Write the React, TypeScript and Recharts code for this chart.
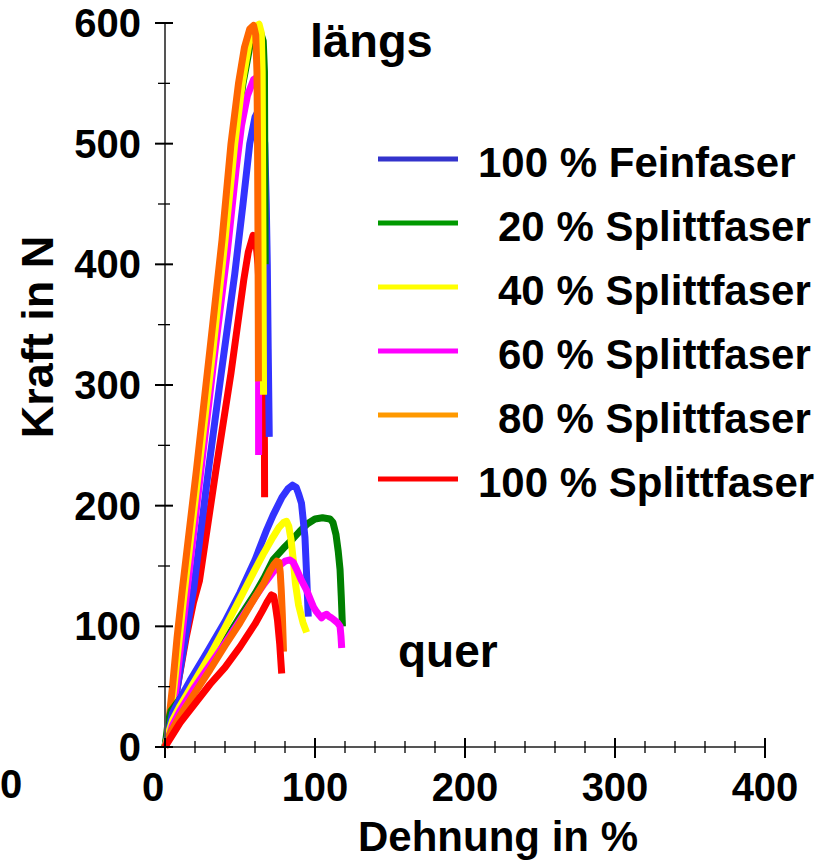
import React from "react";
import { LineChart, Line, XAxis, YAxis } from "recharts";

type Pt = [number, number];

const seriesNames = [
  "100 % Feinfaser",
  "20 % Splittfaser",
  "40 % Splittfaser",
  "60 % Splittfaser",
  "80 % Splittfaser",
  "100 % Splittfaser",
];
const lineColors = ["#3333ff", "#008000", "#ffff00", "#ff00ff", "#ff6600", "#ff0000"];
const legendColors = ["#3333cc", "#009900", "#ffff00", "#ff00ff", "#ff9900", "#ff0000"];

const xTicks = [0, 20, 40, 60, 80, 100, 120, 140, 160, 180, 200, 220, 240, 260, 280, 300, 320, 340, 360, 380, 400];
const yTicks = [0, 50, 100, 150, 200, 250, 300, 350, 400, 450, 500, 550, 600];

// längs (lengthwise)
const feinLaengs: Pt[] = [[0,0],[5,25],[9,55],[13.5,90],[19,130],[29,230],[37.5,310],[46.5,392],[52,450],[56.5,500],[60,522],[62.5,528],[65,518],[66.5,500],[67.5,450],[68.2,400],[68.8,330],[69.5,257]];
const split20Laengs: Pt[] = [[0,0],[3,20],[6,50],[9.5,90],[12.5,130],[22,230],[31.5,330],[39.5,420],[46.5,500],[52,550],[56.5,580],[60.5,592],[63.5,593],[65.5,585],[66.3,560],[66.5,500],[66.7,440],[66.8,400]];
const split40Laengs: Pt[] = [[0,0],[3,20],[6,50],[9.5,90],[13,130],[22.5,230],[32,330],[40,420],[46.5,500],[51.5,550],[56,583],[60,597],[62.7,599],[64.2,592],[64.8,560],[65,500],[65.3,420],[65.5,350],[65.7,292]];
const split60Laengs: Pt[] = [[0,0],[4,20],[7.5,50],[11,90],[14.7,130],[24,230],[33.5,330],[41.5,410],[47.5,480],[51,515],[55,540],[59,553],[61.3,555],[62.3,545],[62.5,500],[62.5,420],[62.5,350],[62.4,300],[62.4,242]];
const split80Laengs: Pt[] = [[0,0],[2,15],[5,50],[8,90],[11.5,130],[21,230],[30,330],[38,420],[44,500],[49,550],[53,580],[56.5,595],[59,598],[60.5,590],[61.3,560],[61.7,500],[62,420],[62.2,350],[62.3,303]];
const split100Laengs: Pt[] = [[0,0],[4,20],[9,55],[14,90],[19,120],[23,138],[34,230],[44,310],[52.5,387],[55.5,410],[58.7,424],[60.5,420],[62,400],[63.5,360],[65,320],[66,290],[66.3,250],[66.4,207]];

// quer (crosswise)
const feinQuer: Pt[] = [[0,0],[3,16],[5,28],[10,40],[16.7,55],[20,62],[27.8,78],[40,104],[50,128],[60,155],[67.8,180],[72,192],[78,207],[82,214],[85,217],[87.5,215],[89,210],[91,202],[93.3,174],[94.5,140],[95.5,108]];
const split20Quer: Pt[] = [[0,0],[2,20],[4,30],[10,40],[20,55],[30,70],[40,88],[50,108],[60,127],[66,140],[72,155],[80,166],[85.6,173],[90,179],[95,185],[100,189],[105,190],[110,189],[112,186],[114,176],[115.5,162],[116.7,147],[117.5,125],[118.3,100]];
const split40Quer: Pt[] = [[0,0],[3,14],[5,22],[10,34],[20,55],[30,76],[40,99],[50,123],[60,147],[66,161],[72,174],[76,182],[79,186],[81,187],[82.5,183],[84,172],[85.5,155],[87,135],[89,118],[92,103],[94.4,95]];
const split60Quer: Pt[] = [[0,0],[3,10],[5,18],[10,30],[20,50],[30,68],[40,86],[50,105],[60,124],[66,135],[72,145],[77,151],[80,154],[83.3,155],[85.5,153],[87.8,147],[91,138],[94.4,130],[97,122],[99,116],[101,112],[103,109],[104.4,107],[106,109],[107.8,110],[109.5,108],[111,107],[113,105],[115,103],[116.7,100],[117.3,92],[117.8,82]];
const split80Quer: Pt[] = [[0,0],[3,10],[5,15],[10,26],[20,45],[30,64],[40,84],[50,103],[60,124],[66,136],[70,146],[72.5,151],[74.5,154],[76,153],[76.8,145],[77.5,130],[78.2,110],[78.6,95],[79,79]];
const split100Quer: Pt[] = [[0,0],[3,6],[5,10],[10,20],[20,36],[30,52],[40,66],[50,83],[60,102],[65,113],[68,120],[71,126],[72.5,125],[73.5,118],[75,105],[76.5,85],[77.8,61]];

const toRows = (pts: Pt[]) => pts.map(([x, y]) => ({ x, y }));

// drawing order, bottom first: [series index, points]
const drawOrder: [number, Pt[]][] = [
  [5, split100Laengs],
  [0, feinLaengs],
  [1, split20Laengs],
  [3, split60Laengs],
  [2, split40Laengs],
  [4, split80Laengs],
  [1, split20Quer],
  [0, feinQuer],
  [2, split40Quer],
  [3, split60Quer],
  [4, split80Quer],
  [5, split100Quer],
];

const FONT = '"Liberation Sans", Arial, sans-serif';

function XTick(props: any) {
  const { x, y, payload } = props;
  const v = payload.value;
  const major = v % 100 === 0;
  return (
    <g>
      <line x1={x} x2={x} y1={y - (major ? 9 : 6)} y2={y + (major ? 11 : 6)} stroke="#000" strokeWidth={major ? 2 : 1.3} />
      {major && (
        <text x={x + (v === 0 ? -12 : 0)} y={y + 54} textAnchor="middle" fontFamily={FONT} fontWeight="bold" fontSize={40} fill="#000">
          {v}
        </text>
      )}
    </g>
  );
}

function YTick(props: any) {
  const { x, y, payload } = props;
  const v = payload.value;
  const major = v % 100 === 0;
  return (
    <g>
      <line x1={x - (major ? 10 : 7)} x2={x + (major ? 8 : 5)} y1={y} y2={y} stroke="#000" strokeWidth={major ? 2 : 1.3} />
      {major && (
        <text x={141} y={y + 14} textAnchor="end" fontFamily={FONT} fontWeight="bold" fontSize={40} fill="#000">
          {v}
        </text>
      )}
    </g>
  );
}

export default function App() {
  return (
    <div style={{ position: "absolute", left: 0, top: 0, width: 825, height: 861, background: "#fff" }}>
      <LineChart width={825} height={861} margin={{ top: 23, right: 60, left: 0, bottom: 0 }}>
        <XAxis
          type="number"
          dataKey="x"
          domain={[0, 400]}
          ticks={xTicks}
          interval={0}
          height={114}
          tickSize={0}
          tickMargin={0}
          tickLine={false}
          axisLine={{ stroke: "#555", strokeWidth: 2 }}
          tick={(p: any) => <XTick {...p} />}
        />
        <YAxis
          type="number"
          dataKey="y"
          domain={[0, 600]}
          ticks={yTicks}
          interval={0}
          width={165}
          tickSize={0}
          tickMargin={0}
          tickLine={false}
          axisLine={{ stroke: "#555", strokeWidth: 2 }}
          tick={(p: any) => <YTick {...p} />}
        />
        {drawOrder.map(([idx, pts], i) => (
          <Line
            key={i}
            data={toRows(pts)}
            dataKey="y"
            type="linear"
            stroke={lineColors[idx]}
            strokeWidth={7}
            strokeLinejoin="round"
            dot={false}
            activeDot={false}
            isAnimationActive={false}
            name={seriesNames[idx]}
          />
        ))}
      </LineChart>
      <svg width={825} height={861} style={{ position: "absolute", left: 0, top: 0, pointerEvents: "none" }}>
        <g fontFamily={FONT} fontWeight="bold" fill="#000">
          <text x={310} y={57} fontSize={47}>längs</text>
          <text x={398} y={667} fontSize={46}>quer</text>
          <text x={498} y={851} fontSize={42} textAnchor="middle">Dehnung in %</text>
          <text x={53} y={337} fontSize={45} textAnchor="middle" transform="rotate(-90, 53, 337)">Kraft in N</text>
          <text x={0} y={798} fontSize={40}>0</text>
          {seriesNames.map((name, i) => {
            const cy = 159 + i * 64;
            const indent = name.startsWith("100") ? 0 : 20;
            return (
              <g key={name}>
                <line x1={378} x2={458} y1={cy} y2={cy} stroke={legendColors[i]} strokeWidth={5} />
                <text x={478 + indent} y={cy + 18} fontSize={42}>{name}</text>
              </g>
            );
          })}
        </g>
      </svg>
    </div>
  );
}
